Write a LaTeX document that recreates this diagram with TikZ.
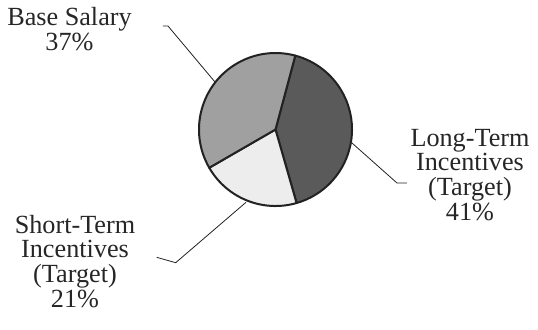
\documentclass[tikz,border=0pt]{standalone}
\usepackage{fontspec}
\setmainfont{Liberation Serif}
\definecolor{baseGray}{HTML}{A0A0A0}
\definecolor{longGray}{HTML}{5A5A5A}
\definecolor{shortGray}{HTML}{EDEDED}
\definecolor{edgeGray}{HTML}{222222}
\tikzset{
  slice/.style={draw=edgeGray, line width=1pt, line join=round},
  leader/.style={draw=edgeGray, line width=0.4pt},
  label/.style={align=center, anchor=base, inner sep=0pt, text=black!85,
    font=\fontsize{13.1}{12.3}\selectfont}
}

\begin{document}
\begin{tikzpicture}[x=0.5pt, y=-0.5pt]
\useasboundingbox (0,0) rectangle (538,329);
\coordinate (c) at (275.5,129.5);
% Slices
    \filldraw[slice, fill=longGray] (c) -- ++(75:38.25pt) arc (75:-74:38.25pt) -- cycle;
    \filldraw[slice, fill=shortGray] (c) -- ++(-74:38.25pt) arc (-74:-150:38.25pt) -- cycle;
    \filldraw[slice, fill=baseGray] (c) -- ++(-150:38.25pt) arc (-150:-285:38.25pt) -- cycle;
% Labels (anchored on the last line)
    \node[label] (base) at (69.5,50) {Base Salary\\37\%};
    \node[label] (long) at (470,220) {Long-Term\\Incentives\\(Target)\\41\%};
    \node[label] (short) at (75,307) {Short-Term\\Incentives\\(Target)\\21\%};
% Leaders
    \coordinate (base-a) at (163,26);
    \coordinate (base-b) at (168,26);
    \coordinate (base-c) at (215,82);
    \coordinate (long-a) at (352,143);
    \coordinate (long-b) at (397,183);
    \coordinate (long-c) at (407,183);
    \coordinate (short-a) at (156.7,257.3);
    \coordinate (short-b) at (175.7,262.7);
    \coordinate (short-c) at (246,202.3);
    \draw[leader] (base-a) -- (base-b) -- (base-c);
    \draw[leader] (long-a) -- (long-b) -- (long-c);
    \draw[leader] (short-a) -- (short-b) -- (short-c);
\end{tikzpicture}
\end{document}
